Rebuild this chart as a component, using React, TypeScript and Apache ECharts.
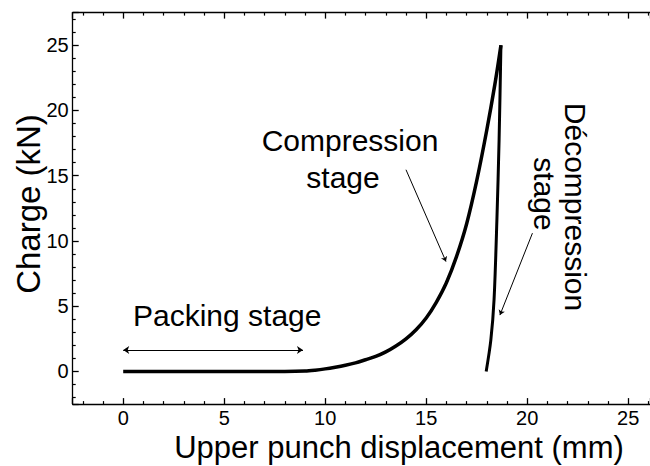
import React, { useEffect, useRef } from "react";
import * as echarts from "echarts";

// ---- data ----
const compressionX = [0, 2, 4, 6, 8, 9, 9.5, 10, 10.5, 11, 11.5, 12, 12.5, 13, 13.5, 14, 14.5, 15, 15.5, 16, 16.5, 17, 17.5, 18, 18.4, 18.7];
const compressionY = [0, 0, 0, 0, 0, 0.03, 0.1, 0.2, 0.33, 0.48, 0.66, 0.9, 1.15, 1.5, 1.95, 2.5, 3.2, 4.1, 5.3, 6.8, 8.8, 11.3, 14.6, 18.5, 22, 25];
const decompressionX = [18.7, 18.61, 18.5, 18.36, 18.2, 17.97];
const decompressionY = [25, 17.8, 11.6, 5.5, 2.4, 0];

const packingArrow = [[0, 1.64], [8.9, 1.64]];
const compressionPointer = [[14.0, 15.46], [15.98, 8.42]];
const decompressionPointer = [[20.26, 10.6], [18.65, 4.32]];

const xMin = -2.5;
const xMax = 26.08;
const yMin = -2.5;
const yMax = 27.5;

const FONT = "'Liberation Sans', Arial, Helvetica, sans-serif";

export default function App() {
  const ref = useRef<HTMLDivElement>(null);
  useEffect(() => {
    if (!ref.current) return;
    const chart = echarts.init(ref.current, undefined, { renderer: "svg" });
    const axisBase = (showLabel: boolean, min: number, max: number) => ({
      type: "value",
      min,
      max,
      splitNumber: 6,
      axisLine: { show: true, onZero: false, lineStyle: { color: "#000", width: 1.3 } },
      axisTick: { show: true, inside: true, length: 6, lineStyle: { color: "#000", width: 1.3 } },
      minorTick: { show: true, splitNumber: 5, length: 3, lineStyle: { color: "#000", width: 1.2 } },
      splitLine: { show: false },
      minorSplitLine: { show: false },
      axisLabel: {
        show: showLabel,
        showMinLabel: false,
        showMaxLabel: false,
        color: "#000",
        fontSize: 20,
        fontFamily: FONT,
        margin: 4,
        formatter: (v: number) => String(Math.round(v)),
      },
    });
    const comp = compressionX.map((x, i) => [x, compressionY[i]]);
    const decomp = decompressionX.map((x, i) => [x, decompressionY[i]]);
    chart.setOption({
      animation: false,
      grid: { left: 72.7, right: 0, top: 12.6, bottom: 61.9, containLabel: false },
      xAxis: [
        { ...axisBase(true, xMin, xMax), position: "bottom" },
        { ...axisBase(false, xMin, xMax), position: "top" },
      ],
      yAxis: [{ ...axisBase(true, yMin, yMax), position: "left" }],
      series: [
        {
          type: "line",
          data: comp,
          smooth: 0.3,
          showSymbol: false,
          symbol: "none",
          lineStyle: { color: "#000", width: 3.5 },
          z: 4,
        },
        {
          type: "line",
          data: decomp,
          smooth: 0.3,
          showSymbol: false,
          symbol: "none",
          lineStyle: { color: "#000", width: 3 },
          z: 4,
        },
        {
          type: "lines",
          coordinateSystem: "cartesian2d",
          symbol: ["arrow", "arrow"],
          symbolSize: 6,
          silent: true,
          lineStyle: { color: "#000", width: 1, opacity: 1, curveness: 0 },
          data: [{ coords: packingArrow }],
          z: 3,
        },
        {
          type: "lines",
          coordinateSystem: "cartesian2d",
          symbol: ["none", "arrow"],
          symbolSize: 5,
          silent: true,
          lineStyle: { color: "#000", width: 1, opacity: 1, curveness: 0 },
          data: [{ coords: compressionPointer }, { coords: decompressionPointer }],
          z: 3,
        },
      ],
      graphic: [
        {
          type: "text",
          x: 28,
          y: 204,
          rotation: Math.PI / 2,
          style: { text: "Charge (kN)", fontSize: 33, fontFamily: FONT, fill: "#000", align: "center", verticalAlign: "middle" },
        },
        {
          type: "text",
          x: 399,
          y: 447,
          style: { text: "Upper punch displacement (mm)", fontSize: 31, fontFamily: FONT, fill: "#000", align: "center", verticalAlign: "middle" },
        },
        {
          type: "text",
          x: 133,
          y: 315,
          style: { text: "Packing stage", fontSize: 30, fontFamily: FONT, fill: "#000", align: "left", verticalAlign: "middle" },
        },
        {
          type: "text",
          x: 350,
          y: 140,
          style: { text: "Compression", fontSize: 30, fontFamily: FONT, fill: "#000", align: "center", verticalAlign: "middle" },
        },
        {
          type: "text",
          x: 343,
          y: 177,
          style: { text: "stage", fontSize: 30, fontFamily: FONT, fill: "#000", align: "center", verticalAlign: "middle" },
        },
        {
          type: "text",
          x: 575,
          y: 207,
          rotation: -Math.PI / 2,
          style: { text: "Décompression", fontSize: 30, fontFamily: FONT, fill: "#000", align: "center", verticalAlign: "middle" },
        },
        {
          type: "text",
          x: 544,
          y: 194,
          rotation: -Math.PI / 2,
          style: { text: "stage", fontSize: 30, fontFamily: FONT, fill: "#000", align: "center", verticalAlign: "middle" },
        },
      ],
    });
    return () => chart.dispose();
  }, []);
  return (
    <div
      ref={ref}
      style={{ position: "absolute", left: 0, top: 0, width: 650, height: 466, background: "#fff" }}
    />
  );
}
